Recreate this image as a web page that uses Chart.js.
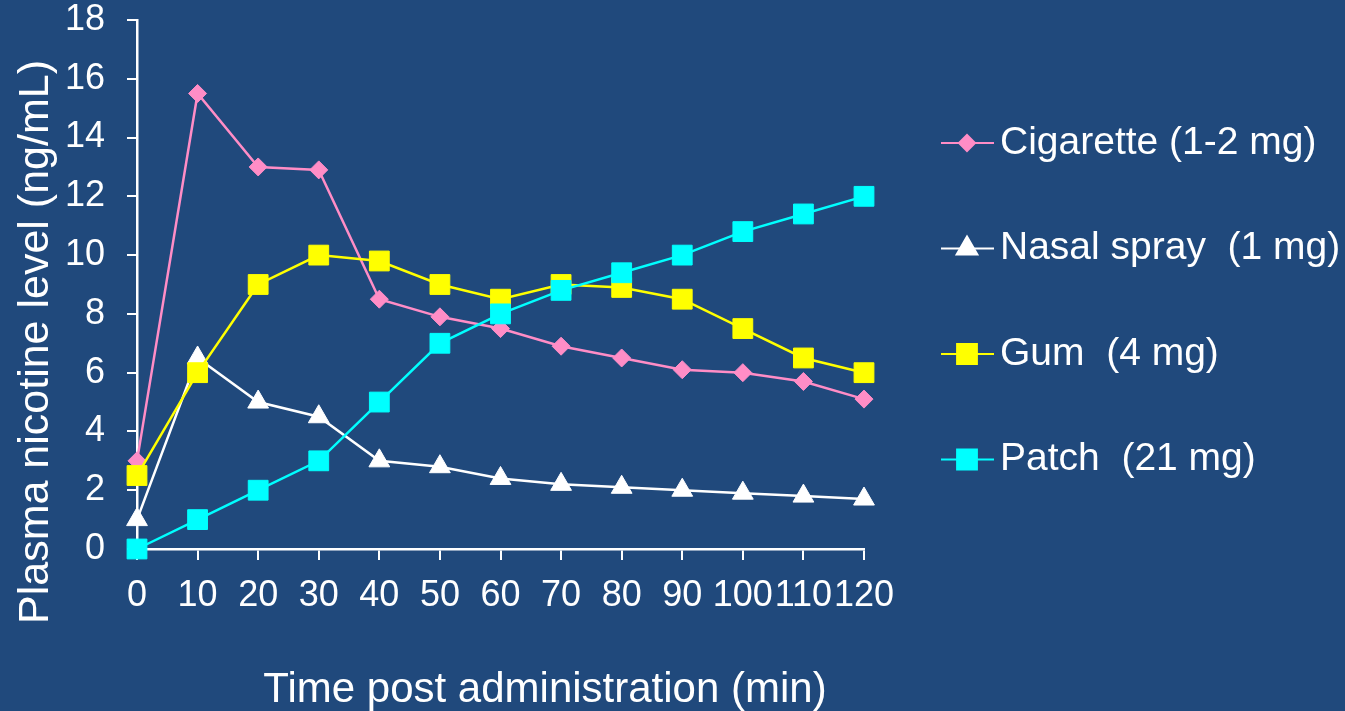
<!DOCTYPE html>
<html>
<head>
<meta charset="utf-8">
<script src="https://cdn.jsdelivr.net/npm/chart.js@4/dist/chart.umd.min.js"></script>
<style>
  body { margin: 0; background: #20497C; }
  canvas { display: block; }
</style>
</head>
<body>
<canvas id="grafico" width="1345" height="711"></canvas>
<script>
// dados
const tempos = ['0', '10', '20', '30', '40', '50', '60', '70', '80', '90', '100', '110', '120'];
const cigarro = [3.0, 15.5, 13.0, 12.9, 8.5, 7.9, 7.5, 6.9, 6.5, 6.1, 6.0, 5.7, 5.1];
const spray = [1.0, 6.5, 5.0, 4.5, 3.0, 2.8, 2.4, 2.2, 2.1, 2.0, 1.9, 1.8, 1.7];
const goma = [2.5, 6.0, 9.0, 10.0, 9.8, 9.0, 8.5, 9.0, 8.9, 8.5, 7.5, 6.5, 6.0];
const adesivo = [0, 1.0, 2.0, 3.0, 5.0, 7.0, 8.0, 8.8, 9.4, 10.0, 10.8, 11.4, 12.0];
const nomes = ['Cigarette (1-2 mg)', 'Nasal spray  (1 mg)', 'Gum  (4 mg)', 'Patch  (21 mg)'];
const yTicks = [0, 2, 4, 6, 8, 10, 12, 14, 16, 18];

const fonte = "'Liberation Sans', Arial, sans-serif";

function serie(label, data, cor, estilo, raio, ordem) {
    return {
        label: label,
        data: data,
        borderColor: cor,
        backgroundColor: cor,
        borderWidth: 2.5,
        pointStyle: estilo,
        pointRadius: raio,
        pointHoverRadius: raio,
        pointBackgroundColor: cor,
        pointBorderColor: cor,
        pointBorderWidth: 1,
        tension: 0,
        clip: false,
        order: ordem
    };
}

// legenda e títulos desenhados à mão (linha com marcador no meio)
const extras = {
    id: 'extras',
    afterDraw(chart) {
        const ctx = chart.ctx;
        ctx.save();
        chart.data.datasets.forEach((ds, i) => {
            const y = 143 + i * 105.5;
            ctx.strokeStyle = ds.borderColor;
            ctx.lineWidth = 2;
            ctx.beginPath();
            ctx.moveTo(941, y);
            ctx.lineTo(994, y);
            ctx.stroke();
            ctx.fillStyle = ds.pointBackgroundColor;
            Chart.helpers.drawPoint(ctx, {
                pointStyle: ds.pointStyle,
                radius: ds.pointStyle === 'rectRot' ? 8 : ds.pointRadius,
                borderWidth: 1,
                rotation: 0
            }, 967, y);
            ctx.fillStyle = '#ffffff';
            ctx.font = '39px ' + fonte;
            ctx.textAlign = 'left';
            ctx.textBaseline = 'middle';
            ctx.fillText(ds.label, 1000, y);
        });

        ctx.fillStyle = '#ffffff';
        ctx.font = '42px ' + fonte;
        ctx.textAlign = 'center';
        ctx.textBaseline = 'alphabetic';
        ctx.fillText('Time post administration (min)', 545, 702);

        ctx.translate(48, 342);
        ctx.rotate(-Math.PI / 2);
        ctx.font = '43px ' + fonte;
        ctx.fillText('Plasma nicotine level (ng/mL)', 0, 0);
        ctx.restore();
    }
};

const ctx = document.getElementById('grafico').getContext('2d');
const grafico = new Chart(ctx, {
    type: 'line',
    data: {
        labels: tempos,
        datasets: [
            serie(nomes[0], cigarro, '#FF8DC6', 'rectRot', 9, 3),
            serie(nomes[1], spray, '#FFFFFF', 'triangle', 12, 2),
            serie(nomes[2], goma, '#FFFF00', 'rect', 14, 1),
            serie(nomes[3], adesivo, '#00FFFF', 'rect', 14, 0)
        ]
    },
    options: {
        responsive: false,
        animation: false,
        layout: { padding: { top: 20, right: 481, left: 0, bottom: 0 } },
        plugins: {
            legend: { display: false },
            tooltip: { enabled: false }
        },
        scales: {
            x: {
                offset: false,
                grid: { drawOnChartArea: false, drawTicks: true, tickLength: 11, color: '#ffffff', lineWidth: 2 },
                border: { color: '#ffffff', width: 2.5 },
                ticks: {
                    color: '#ffffff',
                    font: { size: 36, family: fonte },
                    autoSkip: false,
                    maxRotation: 0,
                    padding: 14
                },
                afterFit: function (scale) { scale.height = 162; scale.paddingLeft = 0; scale.paddingRight = 0; }
            },
            y: {
                min: 0,
                max: 18,
                afterBuildTicks: function (scale) { scale.ticks = yTicks.map(v => ({ value: v })); },
                grid: { drawOnChartArea: false, drawTicks: true, tickLength: 10, color: '#ffffff', lineWidth: 2 },
                border: { color: '#ffffff', width: 2.5 },
                ticks: {
                    color: '#ffffff',
                    font: { size: 36, family: fonte },
                    padding: 22
                },
                afterFit: function (scale) { scale.width = 137; scale.paddingTop = 0; scale.paddingBottom = 0; }
            }
        }
    },
    plugins: [extras]
});
</script>
</body>
</html>
